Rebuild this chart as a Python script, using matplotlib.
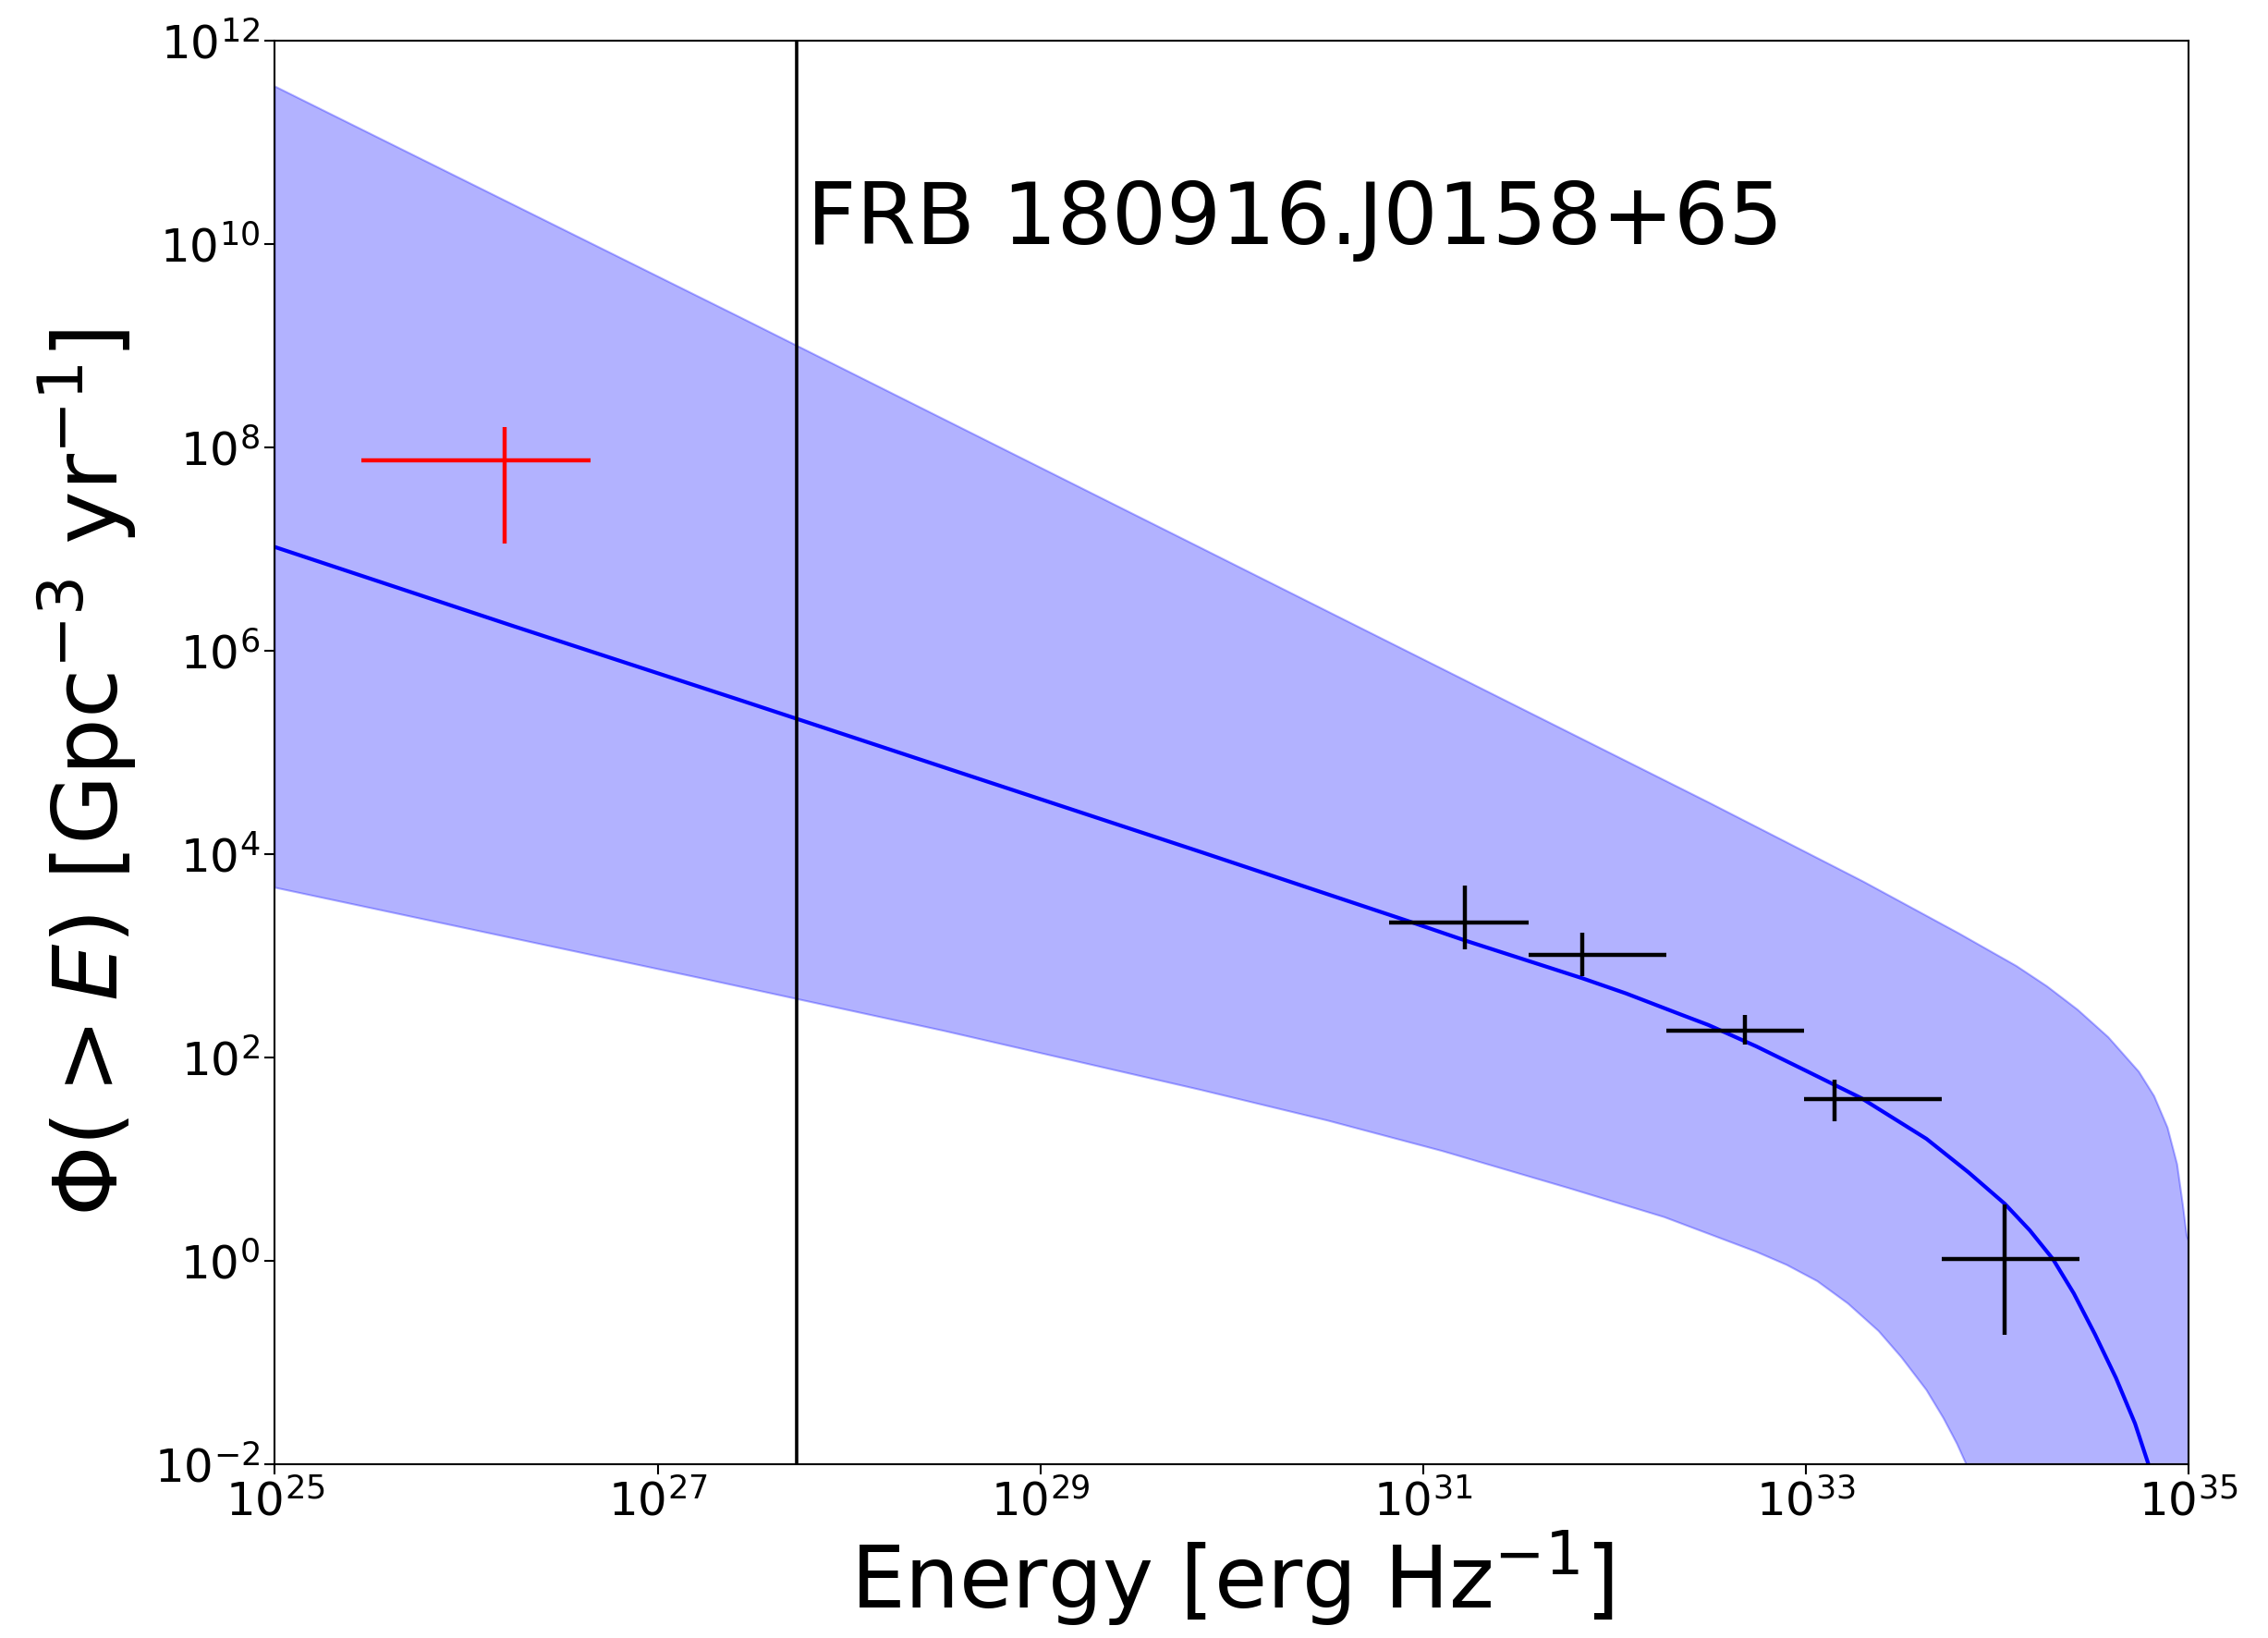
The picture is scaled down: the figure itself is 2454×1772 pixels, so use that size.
import numpy as np
import matplotlib
matplotlib.use("Agg")
import matplotlib.pyplot as plt
from matplotlib.ticker import FixedLocator, NullLocator, LogFormatterMathtext

# -----------------------------
# Values (log10 of energy / rate)
# -----------------------------
# best-fit cumulative rate curve
logE_fit = [25.0, 26.25, 27.43, 28.30, 29.84, 30.94, 31.22, 31.83, 32.06,
            32.35, 32.49, 32.74, 33.00, 33.29, 33.63, 33.85, 34.04, 34.17,
            34.29, 34.40, 34.51, 34.62, 34.72, 34.79, 34.83]
logPhi_fit = [7.02, 6.24, 5.515, 4.975, 4.02, 3.33, 3.15, 2.78, 2.63,
              2.42, 2.32, 2.11, 1.87, 1.60, 1.20, 0.87, 0.56, 0.30,
              0.02, -0.32, -0.72, -1.15, -1.60, -2.0, -2.25]

# upper edge of the uncertainty band
logE_up = [25.0, 27.43, 29.84, 32.49, 33.30, 33.80, 34.10, 34.26, 34.42,
           34.58, 34.74, 34.82, 34.89, 34.94, 34.97, 34.99, 35.0]
logPhi_up = [11.55, 9.28, 7.01, 4.51, 3.73, 3.22, 2.90, 2.70, 2.47,
             2.20, 1.86, 1.62, 1.31, 0.95, 0.55, 0.25, 0.2]

# lower edge of the uncertainty band
logE_lo = [25.0, 27.25, 28.50, 29.84, 30.50, 31.10, 31.77, 32.26, 32.74,
           32.90, 33.06, 33.22, 33.38, 33.50, 33.63, 33.72, 33.79, 33.85,
           34.0, 35.0]
logPhi_lo = [3.67, 2.77, 2.26, 1.68, 1.38, 1.08, 0.71, 0.43, 0.09,
             -0.04, -0.20, -0.42, -0.69, -0.95, -1.27, -1.55, -1.80, -2.05,
             -4.0, -20.0]

# binned rates (black)
logE_bin = [31.22, 31.83, 32.68, 33.15, 34.04]
logE_bin_lo = [30.82, 31.55, 32.27, 32.99, 33.71]
logE_bin_hi = [31.55, 32.27, 32.99, 33.71, 34.43]
logPhi_bin = [3.33, 3.01, 2.26, 1.59, 0.02]
logPhi_bin_hi = [3.69, 3.23, 2.42, 1.78, 0.55]
logPhi_bin_lo = [3.06, 2.80, 2.13, 1.37, -0.73]

# low-energy point (red)
logE_red, logE_red_lo, logE_red_hi = 26.20, 25.45, 26.65
logPhi_red, logPhi_red_hi, logPhi_red_lo = 7.87, 8.20, 7.05

E_frb = 5.3e27
label_frb = "FRB 180916.J0158+65"

xticks = [1e25, 1e27, 1e29, 1e31, 1e33, 1e35]
yticks = [1e-2, 1e0, 1e2, 1e4, 1e6, 1e8, 1e10, 1e12]

# -----------------------------
# Plot
# -----------------------------
fig = plt.figure(figsize=(24.54, 17.72), dpi=100)
ax = fig.add_subplot(111)
fig.subplots_adjust(left=0.1212, right=0.965, top=0.9752, bottom=0.1061)

E_up = 10**np.array(logE_up)
E_lo = 10**np.array(logE_lo)
ax.fill(np.concatenate([E_up, E_lo[::-1]]),
        np.concatenate([10**np.array(logPhi_up), 10**np.array(logPhi_lo)[::-1]]),
        color="blue", alpha=0.3, lw=1.5, zorder=1)

ax.plot(10**np.array(logE_fit), 10**np.array(logPhi_fit), color="blue", lw=3, zorder=2)

Ec = 10**np.array(logE_bin)
Pc = 10**np.array(logPhi_bin)
ax.errorbar(Ec, Pc,
            xerr=[Ec - 10**np.array(logE_bin_lo), 10**np.array(logE_bin_hi) - Ec],
            yerr=[Pc - 10**np.array(logPhi_bin_lo), 10**np.array(logPhi_bin_hi) - Pc],
            fmt="none", ecolor="black", elinewidth=3.2, zorder=3)

Er = 10**logE_red
Pr = 10**logPhi_red
ax.errorbar([Er], [Pr],
            xerr=[[Er - 10**logE_red_lo], [10**logE_red_hi - Er]],
            yerr=[[Pr - 10**logPhi_red_lo], [10**logPhi_red_hi - Pr]],
            fmt="none", ecolor="red", elinewidth=3.2, zorder=3)

ax.axvline(E_frb, color="black", lw=2.6, zorder=4)
ax.text(6e27, 1e10, label_frb, fontsize=67, ha="left", va="baseline")

ax.set_xscale("log")
ax.set_yscale("log")
ax.set_xlim(1e25, 1e35)
ax.set_ylim(1e-2, 1e12)
ax.xaxis.set_major_locator(FixedLocator(xticks))
ax.yaxis.set_major_locator(FixedLocator(yticks))
ax.xaxis.set_major_formatter(LogFormatterMathtext())
ax.yaxis.set_major_formatter(LogFormatterMathtext())
ax.xaxis.set_minor_locator(NullLocator())
ax.yaxis.set_minor_locator(NullLocator())
ax.tick_params(labelsize=36, length=8, width=1.5)
for s in ax.spines.values():
    s.set_linewidth(1.5)

ax.set_xlabel("Energy [erg Hz$^{-1}$]", fontsize=67)
ax.set_ylabel(r"$\Phi(>E)$ [Gpc$^{-3}$ yr$^{-1}$]", fontsize=70)
ax.yaxis.set_label_coords(-0.071, 0.486)

plt.savefig("out.png", dpi=100)
